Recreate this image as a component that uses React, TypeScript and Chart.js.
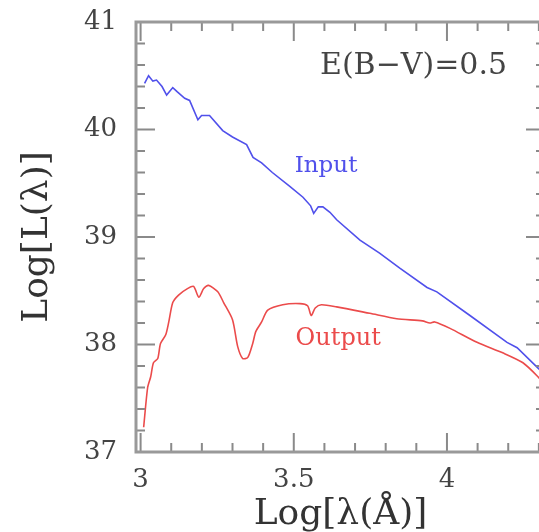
import React, { useEffect, useRef } from 'react';
import { Chart, registerables } from 'chart.js';

Chart.register(...registerables);

// ---- Data ----
const inputLogLambda = [3.013, 3.026, 3.04, 3.052, 3.07, 3.085, 3.105, 3.12, 3.144, 3.16, 3.187, 3.199, 3.225, 3.268, 3.30, 3.346, 3.367, 3.395, 3.43, 3.487, 3.53, 3.555, 3.565, 3.58, 3.595, 3.618, 3.64, 3.716, 3.78, 3.846, 3.935, 3.967, 4.075, 4.196, 4.229, 4.294, 4.32];
const inputLogL = [40.43, 40.50, 40.45, 40.46, 40.40, 40.32, 40.39, 40.35, 40.29, 40.27, 40.09, 40.13, 40.13, 39.99, 39.93, 39.86, 39.74, 39.69, 39.60, 39.47, 39.37, 39.29, 39.22, 39.28, 39.28, 39.23, 39.16, 38.97, 38.85, 38.71, 38.53, 38.49, 38.27, 38.02, 37.97, 37.79, 37.72];

const outputLogLambda = [3.01, 3.023, 3.033, 3.042, 3.056, 3.065, 3.082, 3.092, 3.105, 3.124, 3.153, 3.173, 3.19, 3.206, 3.222, 3.252, 3.271, 3.30, 3.317, 3.333, 3.35, 3.366, 3.376, 3.395, 3.415, 3.464, 3.52, 3.545, 3.557, 3.57, 3.59, 3.64, 3.748, 3.836, 3.92, 3.944, 3.96, 4.01, 4.098, 4.184, 4.248, 4.297, 4.32];
const outputLogL = [37.23, 37.60, 37.70, 37.83, 37.87, 38.01, 38.09, 38.21, 38.39, 38.46, 38.52, 38.54, 38.44, 38.52, 38.55, 38.49, 38.39, 38.23, 37.98, 37.87, 37.88, 38.01, 38.12, 38.21, 38.32, 38.37, 38.38, 38.36, 38.27, 38.34, 38.37, 38.35, 38.29, 38.24, 38.22, 38.20, 38.21, 38.15, 38.02, 37.92, 37.83, 37.70, 37.62];

const xMajorTicks = [3, 3.5, 4];
const yMajorTicks = [37, 38, 39, 40, 41];
const xMinorStep = 0.1;
const yMinorStep = 0.2;
const X_MIN = 2.985;
const X_MAX = 4.32;
const Y_MIN = 37;
const Y_MAX = 41;

const xTitle = 'Log[λ(Å)]';
const yTitle = 'Log[L(λ)]';
const extinctionLabel = 'E(B\u2212V)=0.5';
const extinctionPos = { x: 4.196, y: 40.59 };
const inputLabel = 'Input';
const inputLabelPos = { x: 3.503, y: 39.66 };
const outputLabel = 'Output';
const outputLabelPos = { x: 3.506, y: 38.05 };

const BLUE = 'rgb(80,80,235)';
const RED = 'rgb(235,75,75)';
const AXIS = '#999';
const TICK = '#8a8a8a';

const framePlugin = {
  id: 'frameTicks',
  afterDatasetsDraw(chart: any) {
    const { ctx, chartArea, scales } = chart;
    const xs = scales.x;
    const ys = scales.y;
    const { left, right, top, bottom } = chartArea;
    ctx.save();
    ctx.strokeStyle = TICK;
    ctx.lineWidth = 2;
    const majorLen = 19;
    const minorLen = 9;
    const isMajor = (v: number, list: number[]) => list.some((m) => Math.abs(m - v) < 1e-6);
    ctx.beginPath();
    for (let v = Math.ceil(X_MIN / xMinorStep) * xMinorStep; v <= X_MAX + 1e-9; v += xMinorStep) {
      const val = Math.round(v * 1000) / 1000;
      const px = xs.getPixelForValue(val);
      const len = isMajor(val, xMajorTicks) ? majorLen : minorLen;
      ctx.moveTo(px, bottom);
      ctx.lineTo(px, bottom - len);
      ctx.moveTo(px, top);
      ctx.lineTo(px, top + len);
    }
    for (let v = Y_MIN; v <= Y_MAX + 1e-9; v += yMinorStep) {
      const val = Math.round(v * 1000) / 1000;
      const py = ys.getPixelForValue(val);
      const len = isMajor(val, yMajorTicks) ? majorLen : minorLen;
      ctx.moveTo(left, py);
      ctx.lineTo(left + len, py);
      ctx.moveTo(right, py);
      ctx.lineTo(right - len, py);
    }
    ctx.stroke();
    ctx.strokeStyle = AXIS;
    ctx.lineWidth = 3;
    ctx.strokeRect(left, top, right - left, bottom - top);

    ctx.textBaseline = 'middle';
    ctx.fillStyle = '#444';
    ctx.font = '30px "DejaVu Serif"';
    ctx.textAlign = 'right';
    ctx.fillText(extinctionLabel, xs.getPixelForValue(extinctionPos.x), ys.getPixelForValue(extinctionPos.y));
    ctx.textAlign = 'left';
    ctx.font = '23px "DejaVu Serif"';
    ctx.fillStyle = BLUE;
    ctx.fillText(inputLabel, xs.getPixelForValue(inputLabelPos.x), ys.getPixelForValue(inputLabelPos.y));
    ctx.font = '24px "DejaVu Serif"';
    ctx.fillStyle = RED;
    ctx.fillText(outputLabel, xs.getPixelForValue(outputLabelPos.x), ys.getPixelForValue(outputLabelPos.y));
    ctx.restore();
  },
};

export default function App() {
  const ref = useRef<HTMLCanvasElement>(null);
  useEffect(() => {
    document.body.style.margin = '0';
    const chart = new Chart(ref.current as HTMLCanvasElement, {
      type: 'line',
      data: {
        datasets: [
          {
            label: 'Input',
            data: inputLogLambda.map((x, i) => ({ x, y: inputLogL[i] })),
            borderColor: BLUE,
            borderWidth: 1.6,
            pointRadius: 0,
            tension: 0,
            fill: false,
          },
          {
            label: 'Output',
            data: outputLogLambda.map((x, i) => ({ x, y: outputLogL[i] })),
            borderColor: RED,
            borderWidth: 1.6,
            pointRadius: 0,
            tension: 0.25,
            fill: false,
          },
        ],
      },
      options: {
        responsive: false,
        animation: false,
        layout: { padding: { top: 22, right: 5, left: 0, bottom: 0 } },
        plugins: { legend: { display: false }, tooltip: { enabled: false } },
        scales: {
          x: {
            type: 'linear',
            min: X_MIN,
            max: X_MAX,
            grid: { display: false, drawTicks: false },
            border: { display: false },
            afterBuildTicks: (s: any) => {
              s.ticks = xMajorTicks.map((v) => ({ value: v }));
            },
            afterFit: (s: any) => {
              s.height = 80;
              s.paddingLeft = 0;
              s.paddingRight = 0;
            },
            ticks: {
              autoSkip: false,
              maxRotation: 0,
              padding: 13,
              color: '#444',
              font: { family: '"DejaVu Serif"', size: 26 },
              callback: (v: any) => String(v),
            },
            title: {
              display: true,
              text: xTitle,
              color: '#333',
              font: { family: '"DejaVu Serif"', size: 36, lineHeight: 0.95 },
              padding: 0,
            },
          },
          y: {
            type: 'linear',
            min: Y_MIN,
            max: Y_MAX,
            grid: { display: false, drawTicks: false },
            border: { display: false },
            afterBuildTicks: (s: any) => {
              s.ticks = yMajorTicks.map((v) => ({ value: v }));
            },
            afterFit: (s: any) => {
              s.width = 136;
              s.paddingTop = 0;
              s.paddingBottom = 0;
            },
            ticks: {
              autoSkip: false,
              padding: 19,
              color: '#444',
              font: { family: '"DejaVu Serif"', size: 26 },
              callback: (v: any) => String(v),
            },
            title: {
              display: true,
              text: yTitle,
              color: '#333',
              font: { family: '"DejaVu Serif"', size: 36, lineHeight: 1 },
              padding: { top: 20, bottom: 0 },
            },
          },
        },
      },
      plugins: [framePlugin],
    });
    return () => chart.destroy();
  }, []);
  return (
    <div style={{ position: 'fixed', left: 0, top: 0, width: 539, height: 532, overflow: 'hidden', background: '#fff' }}>
      <canvas ref={ref} width={550} height={532} style={{ display: 'block' }} />
    </div>
  );
}
